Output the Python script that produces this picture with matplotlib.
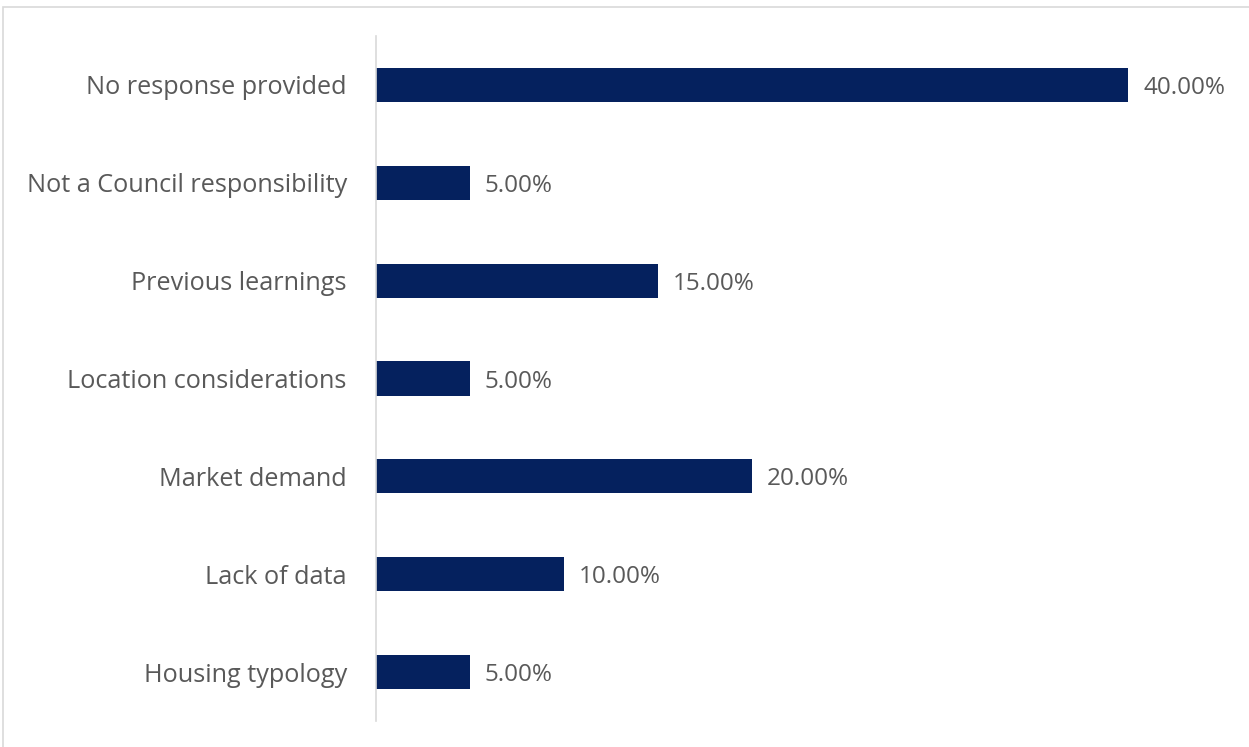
import matplotlib
matplotlib.use("Agg")
import matplotlib.pyplot as plt
from matplotlib.patches import Rectangle

categories = [
    "No response provided",
    "Not a Council responsibility",
    "Previous learnings",
    "Location considerations",
    "Market demand",
    "Lack of data",
    "Housing typology",
]
values = [40.0, 5.0, 15.0, 5.0, 20.0, 10.0, 5.0]

bar_color = "#05215E"
text_color = "#595959"
plt.rcParams["font.family"] = ["Open Sans", "DejaVu Sans"]

fig = plt.figure(figsize=(12.49, 7.47), dpi=100)
W, H = 1249, 747

# chart frame
fig.patches.append(Rectangle((3 / W, -0.01), 1.2, 1 - 6.5 / H + 0.01,
                             transform=fig.transFigure, fill=False,
                             edgecolor="#D9D9D9", linewidth=1.2))

ax = fig.add_axes([376 / W, 1 - 721 / H, 846 / W, 685 / H])
y = list(range(len(categories)))
ax.barh(y, values, height=0.35, color=bar_color)
ax.set_ylim(len(categories) - 0.5, -0.5)
ax.set_xlim(0, 45)
ax.set_yticks(y)
ax.set_yticklabels(categories, fontsize=18.2, color=text_color)
ax.tick_params(axis="y", length=0, pad=21)
ax.set_xticks([])
for side in ["top", "right", "bottom"]:
    ax.spines[side].set_visible(False)
ax.spines["left"].set_color("#D9D9D9")
ax.spines["left"].set_linewidth(1.2)

for yi, v in zip(y, values):
    ax.annotate(f"{v:.2f}%", xy=(v, yi), xytext=(15, -3),
                textcoords="offset pixels",
                va="center", ha="left", fontsize=17.5, color=text_color)

fig.savefig("out.png", dpi=100)
